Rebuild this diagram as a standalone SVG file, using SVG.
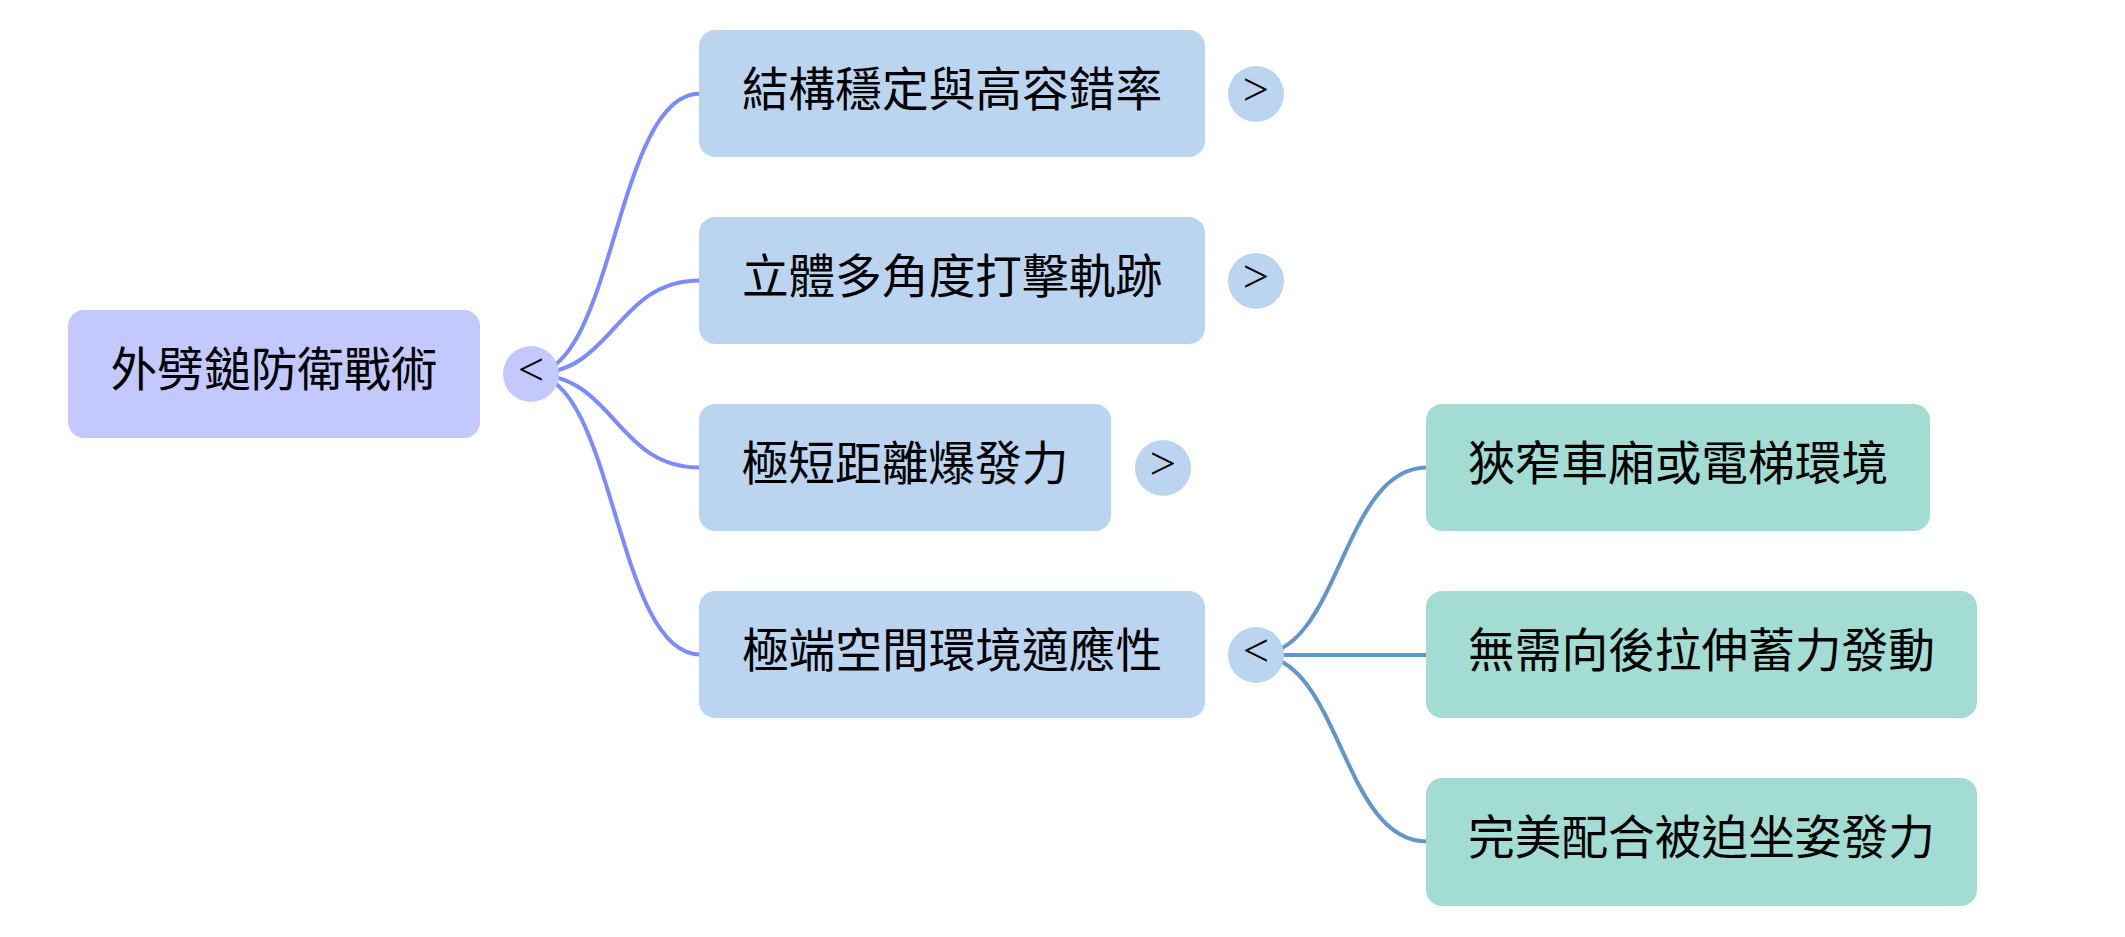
<svg xmlns="http://www.w3.org/2000/svg" width="2125" height="937" viewBox="0 0 2125 937">
<style>
.lbl{font-family:"Noto Sans CJK TC","Noto Sans CJK SC",sans-serif;font-size:46.7px;fill:#000;text-anchor:middle}
.tg{font-family:"Liberation Serif","Times New Roman",serif;font-size:46.7px;fill:#000;text-anchor:middle}
.root{fill:#c3c9ff}
.l1{fill:#bbd5f0}
.l2{fill:#a3dcd2}
.c1{fill:none;stroke:#7b8bff;stroke-width:4}
.c2{fill:none;stroke:#6195cc;stroke-width:4}
</style>
<rect width="2125" height="937" fill="#fff"/>
<g id="connectors">
<path class="c1" d="M531 374 C615 374 615 93.5 700 93.5"/>
<path class="c1" d="M531 374 C615 374 615 280.5 700 280.5"/>
<path class="c1" d="M531 374 C615 374 615 467.5 700 467.5"/>
<path class="c1" d="M531 374 C615 374 615 654.5 700 654.5"/>
<path class="c2" d="M1256 655 C1341 655 1341 467.5 1427 467.5"/>
<path class="c2" d="M1256 655 L1427 655"/>
<path class="c2" d="M1256 655 C1341 655 1341 841.5 1427 841.5"/>
</g>
<g id="n-root">
<rect class="root" x="68" y="310" width="412" height="128" rx="16"/>
<text class="lbl" x="274" y="386">外劈鎚防衛戰術</text>
<circle class="root" cx="531" cy="374" r="28"/>
<text class="tg" x="531" y="385">&lt;</text>
</g>
<g id="n1">
<rect class="l1" x="699" y="30" width="506" height="127" rx="16"/>
<text class="lbl" x="952" y="106">結構穩定與高容錯率</text>
<circle class="l1" cx="1256" cy="94" r="28"/>
<text class="tg" x="1256" y="105">&gt;</text>
</g>
<g id="n2">
<rect class="l1" x="699" y="217" width="506" height="127" rx="16"/>
<text class="lbl" x="952" y="293">立體多角度打擊軌跡</text>
<circle class="l1" cx="1256" cy="281" r="28"/>
<text class="tg" x="1256" y="292">&gt;</text>
</g>
<g id="n3">
<rect class="l1" x="699" y="404" width="412" height="127" rx="16"/>
<text class="lbl" x="905" y="480">極短距離爆發力</text>
<circle class="l1" cx="1163" cy="468" r="28"/>
<text class="tg" x="1163" y="479">&gt;</text>
</g>
<g id="n4">
<rect class="l1" x="699" y="591" width="506" height="127" rx="16"/>
<text class="lbl" x="952" y="667">極端空間環境適應性</text>
<circle class="l1" cx="1256" cy="655" r="28"/>
<text class="tg" x="1256" y="666">&lt;</text>
</g>
<g id="n4a">
<rect class="l2" x="1426" y="404" width="504" height="127" rx="16"/>
<text class="lbl" x="1678" y="480">狹窄車廂或電梯環境</text>
</g>
<g id="n4b">
<rect class="l2" x="1426" y="591" width="551" height="127" rx="16"/>
<text class="lbl" x="1701.5" y="667">無需向後拉伸蓄力發動</text>
</g>
<g id="n4c">
<rect class="l2" x="1426" y="778" width="551" height="128" rx="16"/>
<text class="lbl" x="1701.5" y="854">完美配合被迫坐姿發力</text>
</g>
</svg>
